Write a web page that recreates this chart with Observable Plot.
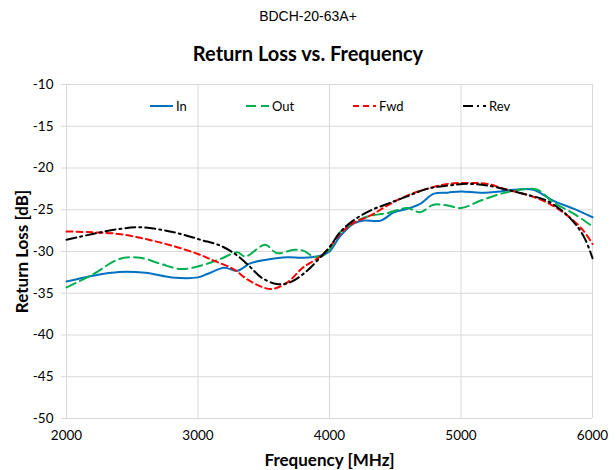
<!DOCTYPE html>
<html>
<head>
<meta charset="utf-8">
<script src="https://cdn.jsdelivr.net/npm/d3@7"></script>
<script src="https://cdn.jsdelivr.net/npm/@observablehq/plot@0.6"></script>
<style>
  body { margin: 0; background: #fff; }
  #wrap { position: relative; width: 616px; height: 470px; font-family: Lato, "Open Sans", sans-serif; }
  #sub { position: absolute; top: 8px; left: 0; width: 616px; text-align: center; font-family: "Liberation Sans Narrow", "Liberation Sans", Arial, sans-serif; font-size: 14px; color: #000; }
  #ttl { position: absolute; top: 41px; left: 0; width: 616px; text-align: center; font-size: 20px; font-weight: bold; color: #000; }
  #chart { position: absolute; top: 70px; left: 0; }
  #legend { position: absolute; top: 97px; left: 0; width: 616px; height: 18px; font-size: 13px; color: #000; }
  .item { position: absolute; top: 0; display: flex; align-items: center; height: 18px; }
  .item svg { margin-right: 3px; }
</style>
</head>
<body>
<div id="wrap">
  <div id="sub"></div>
  <div id="ttl"></div>
  <div id="chart"></div>
  <div id="legend"></div>
</div>
<script>
const subtitle = "BDCH-20-63A+";
const title = "Return Loss vs. Frequency";
const xLabel = "Frequency [MHz]";
const yLabel = "Return Loss [dB]";
const xTicks = [2000, 3000, 4000, 5000, 6000];
const yTicks = [-50, -45, -40, -35, -30, -25, -20, -15, -10];
const seriesNames = ["In", "Out", "Fwd", "Rev"];

const inFreq = [2000,2200,2400,2600,2800,3000,3070,3200,3300,3400,3520,3680,3800,3930,4000,4080,4180,4260,4390,4490,4590,4690,4790,4900,5000,5150,5300,5400,5550,5700,5860,6000];
const inVal  = [-33.6,-32.9,-32.45,-32.55,-33.1,-33.1,-32.7,-31.95,-32.3,-31.4,-31.0,-30.7,-30.75,-30.5,-30.0,-28.2,-26.7,-26.3,-26.3,-25.3,-24.9,-24.3,-23.1,-22.95,-22.8,-22.95,-22.8,-22.6,-22.6,-23.9,-24.9,-25.9];

const outFreq = [2000,2200,2400,2560,2720,2870,3020,3170,3300,3360,3510,3600,3730,3800,3880,3950,4000,4080,4180,4290,4440,4590,4690,4790,4900,5000,5150,5300,5450,5580,5700,5860,6000];
const outVal  = [-34.3,-32.75,-30.9,-30.75,-31.5,-32.1,-31.7,-30.9,-30.1,-30.6,-29.2,-30.2,-29.8,-29.9,-30.6,-30.5,-29.8,-27.7,-26.6,-25.8,-25.4,-24.8,-25.3,-24.4,-24.5,-24.8,-23.9,-23.1,-22.6,-22.6,-24.1,-25.5,-27.0];

const fwdFreq = [2000,2200,2400,2600,2800,3000,3120,3270,3370,3480,3560,3680,3800,3930,4000,4080,4180,4310,4440,4590,4740,4900,5050,5200,5350,5500,5650,5810,5930,6000];
const fwdVal  = [-27.6,-27.7,-27.9,-28.5,-29.3,-30.3,-31.1,-32.1,-33.3,-34.2,-34.5,-33.7,-31.9,-30.6,-29.5,-27.9,-26.6,-25.7,-24.5,-23.3,-22.5,-21.9,-21.8,-21.9,-22.6,-23.2,-24.1,-25.7,-27.5,-29.1];

const revFreq = [2000,2200,2400,2560,2720,2870,3020,3170,3300,3400,3480,3600,3700,3830,3930,4000,4080,4180,4310,4440,4590,4740,4900,5050,5200,5350,5500,5650,5810,5930,6000];
const revVal  = [-28.6,-27.9,-27.3,-27.1,-27.4,-27.9,-28.6,-29.3,-30.5,-31.9,-33.1,-33.9,-33.7,-32.3,-30.7,-29.5,-27.7,-26.3,-25.1,-24.3,-23.4,-22.5,-22.1,-21.9,-22.1,-22.6,-23.2,-23.9,-25.7,-28.1,-30.8];

const styles = {
  In:  {stroke: "#0070C0", dash: null},
  Out: {stroke: "#00B050", dash: "10,5"},
  Fwd: {stroke: "#FF0000", dash: "6,4"},
  Rev: {stroke: "#000000", dash: "10,4,2,4"}
};

const toRows = (name, fs, vs) => fs.map((f, i) => ({series: name, f, v: vs[i]}));
const data = {
  In: toRows("In", inFreq, inVal),
  Out: toRows("Out", outFreq, outVal),
  Fwd: toRows("Fwd", fwdFreq, fwdVal),
  Rev: toRows("Rev", revFreq, revVal)
};

document.getElementById("sub").textContent = subtitle;
document.getElementById("ttl").textContent = title;

const lineMarks = seriesNames.map(n => Plot.line(data[n], {
  x: "f", y: "v", curve: "catmull-rom",
  stroke: styles[n].stroke, strokeWidth: 2,
  strokeDasharray: styles[n].dash || undefined
}));

const chart = Plot.plot({
  width: 616, height: 400,
  marginTop: 14, marginBottom: 52, marginLeft: 66, marginRight: 24,
  style: {fontFamily: "Lato, 'Open Sans', sans-serif", fontSize: "13.5px", color: "#000", background: "#fff"},
  x: {domain: [2000, 6000]},
  y: {domain: [-50, -10]},
  marks: [
    Plot.gridX(xTicks, {stroke: "#d9d9d9", strokeOpacity: 1, strokeWidth: 1}),
    Plot.gridY(yTicks, {stroke: "#d9d9d9", strokeOpacity: 1, strokeWidth: 1}),
    Plot.axisY({ticks: yTicks, tickSize: 5, tickPadding: 8, tickFormat: d => String(d), stroke: "#d9d9d9", strokeOpacity: 1, label: null, fill: "#000"}),
    Plot.axisX({ticks: xTicks, tickSize: 0, tickPadding: 12, tickFormat: d => String(d), label: null, fill: "#000"}),
    ...lineMarks,
    Plot.text([xLabel], {frameAnchor: "bottom", dy: 47, fontWeight: "bold", fontSize: 17, fill: "#000"}),
    Plot.text([yLabel], {frameAnchor: "left", dx: -44, rotate: -90, textAnchor: "middle", fontWeight: "bold", fontSize: 17, fill: "#000"})
  ]
});
document.getElementById("chart").appendChild(chart);

// legend
const legendPos = {In: 150, Out: 246, Fwd: 353, Rev: 463};
const legend = document.getElementById("legend");
seriesNames.forEach(n => {
  const item = document.createElement("div");
  item.className = "item";
  item.style.left = legendPos[n] + "px";
  const ns = "http://www.w3.org/2000/svg";
  const sw = document.createElementNS(ns, "svg");
  sw.setAttribute("width", "23"); sw.setAttribute("height", "10");
  const ln = document.createElementNS(ns, "line");
  ln.setAttribute("x1", "0"); ln.setAttribute("x2", "23");
  ln.setAttribute("y1", "5"); ln.setAttribute("y2", "5");
  ln.setAttribute("stroke", styles[n].stroke);
  ln.setAttribute("stroke-width", "2");
  if (styles[n].dash) ln.setAttribute("stroke-dasharray", styles[n].dash);
  sw.appendChild(ln);
  item.appendChild(sw);
  const t = document.createElement("span");
  t.textContent = n;
  item.appendChild(t);
  legend.appendChild(item);
});
</script>
</body>
</html>
